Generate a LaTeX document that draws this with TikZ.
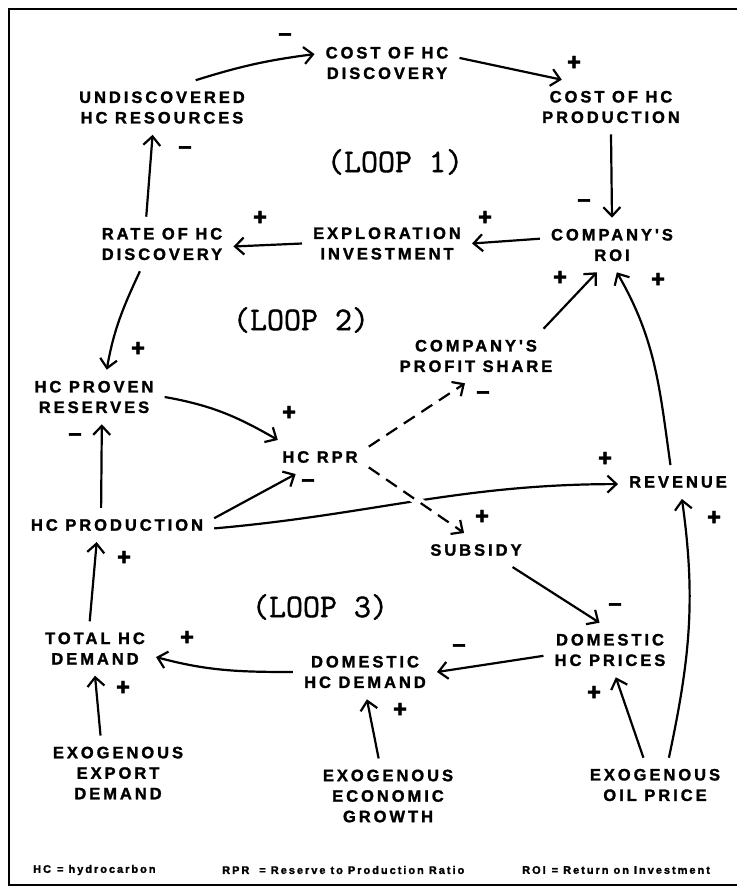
\documentclass[tikz,border=0pt]{standalone}
\usepackage{fontspec}
\newfontfamily\lblfont{Liberation Sans Bold}[LetterSpace=18, FakeBold=1.6]
\newfontfamily\loopfont{Latin Modern Mono}[FakeBold=1.2]
\usetikzlibrary{arrows.meta}

\begin{document}
\begin{tikzpicture}[x=1pt, y=-1pt,
    var/.style={font=\lblfont\fontsize{16.5}{20.5}\selectfont, align=center, inner sep=11pt},
    sgn/.style={font=\lblfont\fontsize{24}{24}\selectfont, inner sep=0pt},
    looplbl/.style={font=\loopfont\fontsize{33}{33}\selectfont, inner sep=0pt},
    legend/.style={font=\lblfont\fontsize{11}{11}\selectfont, anchor=west, inner sep=0pt},
    link/.style={line width=2.2pt, -{Straight Barb[length=9pt, width=17pt]}},
    dlink/.style={link, dash pattern=on 13pt off 8pt}
  ]
  \useasboundingbox (0,0) rectangle (737,887);
  \draw[line width=2pt] (737,9) -- (9,9) -- (9,885) -- (737,885);

  % Variablen
  \node[var] (undis)    at (162,107.5) {UNDISCOVERED\\HC RESOURCES};
  \node[var] (costdisc) at (387,63)    {COST OF HC\\DISCOVERY};
  \node[var] (costprod) at (611,107)   {COST OF HC\\PRODUCTION};
  \node[var] (roi)      at (612,245)   {COMPANY'S\\ROI};
  \node[var] (explor)   at (387,243.5) {EXPLORATION\\INVESTMENT};
  \node[var] (rate)     at (162,244)   {RATE OF HC\\DISCOVERY};
  \node[var] (proven)   at (94,397)    {HC PROVEN\\RESERVES};
  \node[var] (rpr)      at (320,457)   {HC RPR};
  \node[var] (profit)   at (476,356)   {COMPANY'S\\PROFIT SHARE};
  \node[var] (revenue)  at (678,482)   {REVENUE};
  \node[var] (hcprod)   at (117,525)   {HC PRODUCTION};
  \node[var] (subsidy)  at (476,550)   {SUBSIDY};
  \node[var] (total)    at (95,648.5)  {TOTAL HC\\DEMAND};
  \node[var] (domdem)   at (365,672)   {DOMESTIC\\HC DEMAND};
  \node[var] (domprice) at (610,650)   {DOMESTIC\\HC PRICES};
  \node[var] (exexport) at (118,773)   {EXOGENOUS\\EXPORT\\DEMAND};
  \node[var] (exgrowth) at (388,796)   {EXOGENOUS\\ECONOMIC\\GROWTH};
  \node[var] (exoil)    at (655,785)   {EXOGENOUS\\OIL PRICE};

  \node[looplbl] (loop1) at (395,162) {(LOOP 1)};
  \node[looplbl] (loop2) at (301,320) {(LOOP 2)};
  \node[looplbl] (loop3) at (320,607) {(LOOP 3)};

  % Loop 1
  \draw[link] (undis.39) to[bend left=5] (costdisc.173);
  \draw[link] (costdisc.4) -- (costprod.151);
  \draw[link] (costprod.south) -- (roi.north);
  \draw[link] (roi.175) -- (explor.east);
  \draw[link] (explor.west) -- (rate.-2);
  \draw[link] (rate.120) -- (undis.-109);

  % Loop 2
  \draw[link] (rate.-129) to[out=-115, in=80] (proven.65);
  \draw[link] (proven.east) to[out=-10, in=150] (rpr.158);
  \draw[link] (hcprod.133) -- (proven.-74);
  \draw[link] (hcprod.4) -- (rpr.-145);
  \draw[link] (hcprod.-2) to[out=5, in=180] (revenue.182);
  \draw[dlink] (rpr.12) -- (profit.-112);
  \draw[dlink, preaction={draw=white, line width=9pt, solid, arrows=-}] (rpr.-12) -- (subsidy.125);
  \draw[link] (profit.22) -- (roi.-119);
  \draw[link] (revenue.114) to[out=98, in=-60] (roi.-80);

  % Loop 3
  \draw[link] (subsidy.-25) -- (domprice.111);
  \draw[link] (domprice.185) -- (domdem.east);
  \draw[link] (domdem.west) to[out=180, in=-15] (total.-8);
  \draw[link] (total.101) -- (hcprod.-140);

  % exogene Groessen
  \draw[link] (exexport.115) -- (total.south);
  \draw[link] (exgrowth.104) -- (domdem.-86);
  \draw[link] (exoil.113) -- (domprice.-78);
  \draw[link] (exoil.63) to[out=78, in=-82] (revenue.-77);

  % Vorzeichen
  \node[sgn] (s1)  at (285,37)  {–};
  \node[sgn] (s2)  at (574,63)  {+};
  \node[sgn] (s3)  at (584,203) {–};
  \node[sgn] (s4)  at (485,218) {+};
  \node[sgn] (s5)  at (260,218) {+};
  \node[sgn] (s6)  at (185,150) {–};
  \node[sgn] (s7)  at (138,349) {+};
  \node[sgn] (s8)  at (289,413) {+};
  \node[sgn] (s9)  at (75,437)  {–};
  \node[sgn] (s10) at (308,483) {–};
  \node[sgn] (s11) at (605,459) {+};
  \node[sgn] (s12) at (483,395) {–};
  \node[sgn] (s13) at (482,517) {+};
  \node[sgn] (s14) at (560,278) {+};
  \node[sgn] (s15) at (658,280) {+};
  \node[sgn] (s16) at (615,607) {–};
  \node[sgn] (s17) at (459,648) {–};
  \node[sgn] (s18) at (187,638) {+};
  \node[sgn] (s19) at (124,558) {+};
  \node[sgn] (s20) at (123,688) {+};
  \node[sgn] (s21) at (400,710) {+};
  \node[sgn] (s22) at (594,693) {+};
  \node[sgn] (s23) at (714,518) {+};

  % Legende
  \node[legend] (lhc)  at (33,870)  {HC\hspace{6pt}= hydrocarbon};
  \node[legend] (lrpr) at (222,870) {RPR\hspace{10pt}= Reserve to Production Ratio};
  \node[legend] (lroi) at (522,870) {ROI\hspace{6pt}= Return on Investment};
\end{tikzpicture}
\end{document}
